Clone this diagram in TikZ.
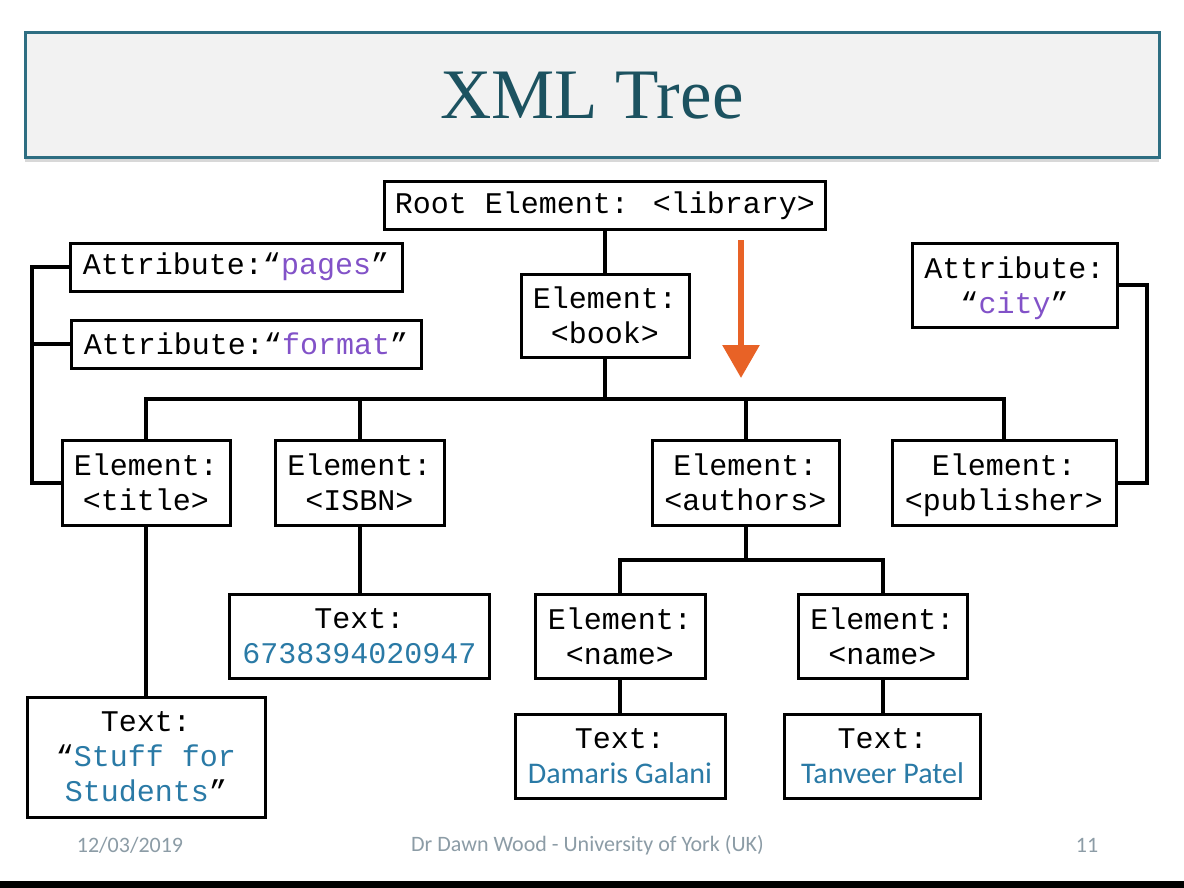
\documentclass[tikz,border=0pt]{standalone}
\usepackage{fontspec}
\usepackage{xcolor}
\usepackage{tikz}
\usetikzlibrary{positioning, arrows.meta, shadows}

\newfontfamily\xmlmono{Liberation Mono}
\newfontfamily\calfont{Carlito}
\newfontfamily\bannerfont{Liberation Serif}

\definecolor{bannerline}{RGB}{46,110,130}
\definecolor{bannerfill}{RGB}{242,242,242}
\definecolor{headteal}{RGB}{28,82,96}
\definecolor{attrpurple}{RGB}{130,82,200}
\definecolor{textblue}{RGB}{42,122,166}
\definecolor{arroworange}{RGB}{232,98,38}
\definecolor{footgray}{RGB}{140,156,166}

\begin{document}
\begin{tikzpicture}[x=1pt, y=-1pt, line join=miter,
    xmlbox/.style={draw, rectangle, line width=3pt, inner sep=0pt, outer sep=0pt, align=center, fill=white,
        font=\xmlmono\fontsize{30}{35}\selectfont},
    link/.style={line width=4pt},
    footer/.style={font=\calfont\fontsize{22}{25}\selectfont, text=footgray}]

\useasboundingbox (0,0) rectangle (1184,888);
\fill[white] (0,0) rectangle (1184,888);

% slide heading
\node[draw=bannerline, line width=3pt, fill=bannerfill, minimum width=1134pt, minimum height=125pt,
    drop shadow={shadow xshift=0pt, shadow yshift=-4pt, opacity=0.3}] (banner) at (592,95.5) {};
\node[font=\bannerfont\fontsize{71}{80}\selectfont, text=headteal] (heading) at (banner) {XML Tree};

% tree
\node[xmlbox, minimum width=441pt, minimum height=47pt] (root) at (605,205.5) {Root Element: <library>};
\node[xmlbox, minimum width=168pt, minimum height=83pt, below=45pt of root] (book) {Element:\\<book>};

\node[xmlbox, minimum width=332pt, minimum height=48pt] (pages) at (236,267) {Attribute:“\textcolor{attrpurple}{pages}”};
\node[xmlbox, minimum width=350pt, minimum height=48pt] (format) at (246,344) {Attribute:“\textcolor{attrpurple}{format}”};
\node[xmlbox, minimum width=205pt, minimum height=84pt, text depth=0pt] (city) at (1014.5,285) {Attribute:\\“\textcolor{attrpurple}{city}”};

\node[xmlbox, minimum width=168pt, minimum height=85pt] (title) at (146,482.5) {Element:\\<title>};
\node[xmlbox, minimum width=169pt, minimum height=85pt, right=45pt of title] (isbn) {Element:\\<ISBN>};
\node[xmlbox, minimum width=187pt, minimum height=85pt] (authors) at (745.5,482.5) {Element:\\<authors>};
\node[xmlbox, minimum width=224pt, minimum height=85pt, text depth=0pt, right=53pt of authors] (publisher) {Element:\\<publisher>};

\node[xmlbox, minimum width=238pt, minimum height=120pt, below=172pt of title] (stuff) {Text:\\“\textcolor{textblue}{Stuff for}\\\textcolor{textblue}{Students}”};
\node[xmlbox, minimum width=260pt, minimum height=84pt, below=69pt of isbn] (isbntext) {Text:\\\textcolor{textblue}{6738394020947}};

\node[xmlbox, minimum width=170pt, minimum height=84pt] (name1) at (620,636) {Element:\\<name>};
\node[xmlbox, minimum width=169pt, minimum height=84pt] (name2) at (882.5,636) {Element:\\<name>};
\node[xmlbox, minimum width=210pt, minimum height=84pt, below=36pt of name1] (damaris) {Text:\\{\calfont\textcolor{textblue}{Damaris Galani}}};
\node[xmlbox, minimum width=196pt, minimum height=84pt, below=36pt of name2] (tanveer) {Text:\\{\calfont\textcolor{textblue}{Tanveer Patel}}};

% branches
\coordinate (bus) at (605,399);
\coordinate (abus) at (745.5,560);
\coordinate (lbr) at (32,482.5);
\coordinate (rbr) at (1147,482.5);

\draw[link] (root) -- (book);
\draw[link] (book) -- (bus);
\draw[link] (bus) -| (title.north);
\draw[link] (bus) -| (isbn.north);
\draw[link] (bus) -| (authors.north);
\draw[link] (bus) -| (publisher.north);
\draw[link] (title) -- (stuff);
\draw[link] (isbn) -- (isbntext);
\draw[link] (authors) -- (abus);
\draw[link] (abus) -| (name1.north);
\draw[link] (abus) -| (name2.north);
\draw[link] (name1) -- (damaris);
\draw[link] (name2) -- (tanveer);

% attributes
\draw[link] (pages.west) -| (lbr) -- (title.west);
\draw[link] (format.west) -- (format.west -| lbr);
\draw[link] (city.east) -| (rbr) -- (publisher.east);

% orange arrow
\coordinate (arrtop) at (741,240);
\coordinate (arrtip) at (741,378);
\draw[arroworange, line width=6pt, -{Triangle[width=36pt, length=33pt]}] (arrtop) -- (arrtip);

% footer
\node[footer] (date) at (130,845) {12/03/2019};
\node[footer] (author) at (587.5,845) {Dr Dawn Wood - University of York (UK)};
\node[footer] (pagenum) at (1087,845) {11};
\fill[black] (0,881) rectangle (1184,888);
\end{tikzpicture}
\end{document}
